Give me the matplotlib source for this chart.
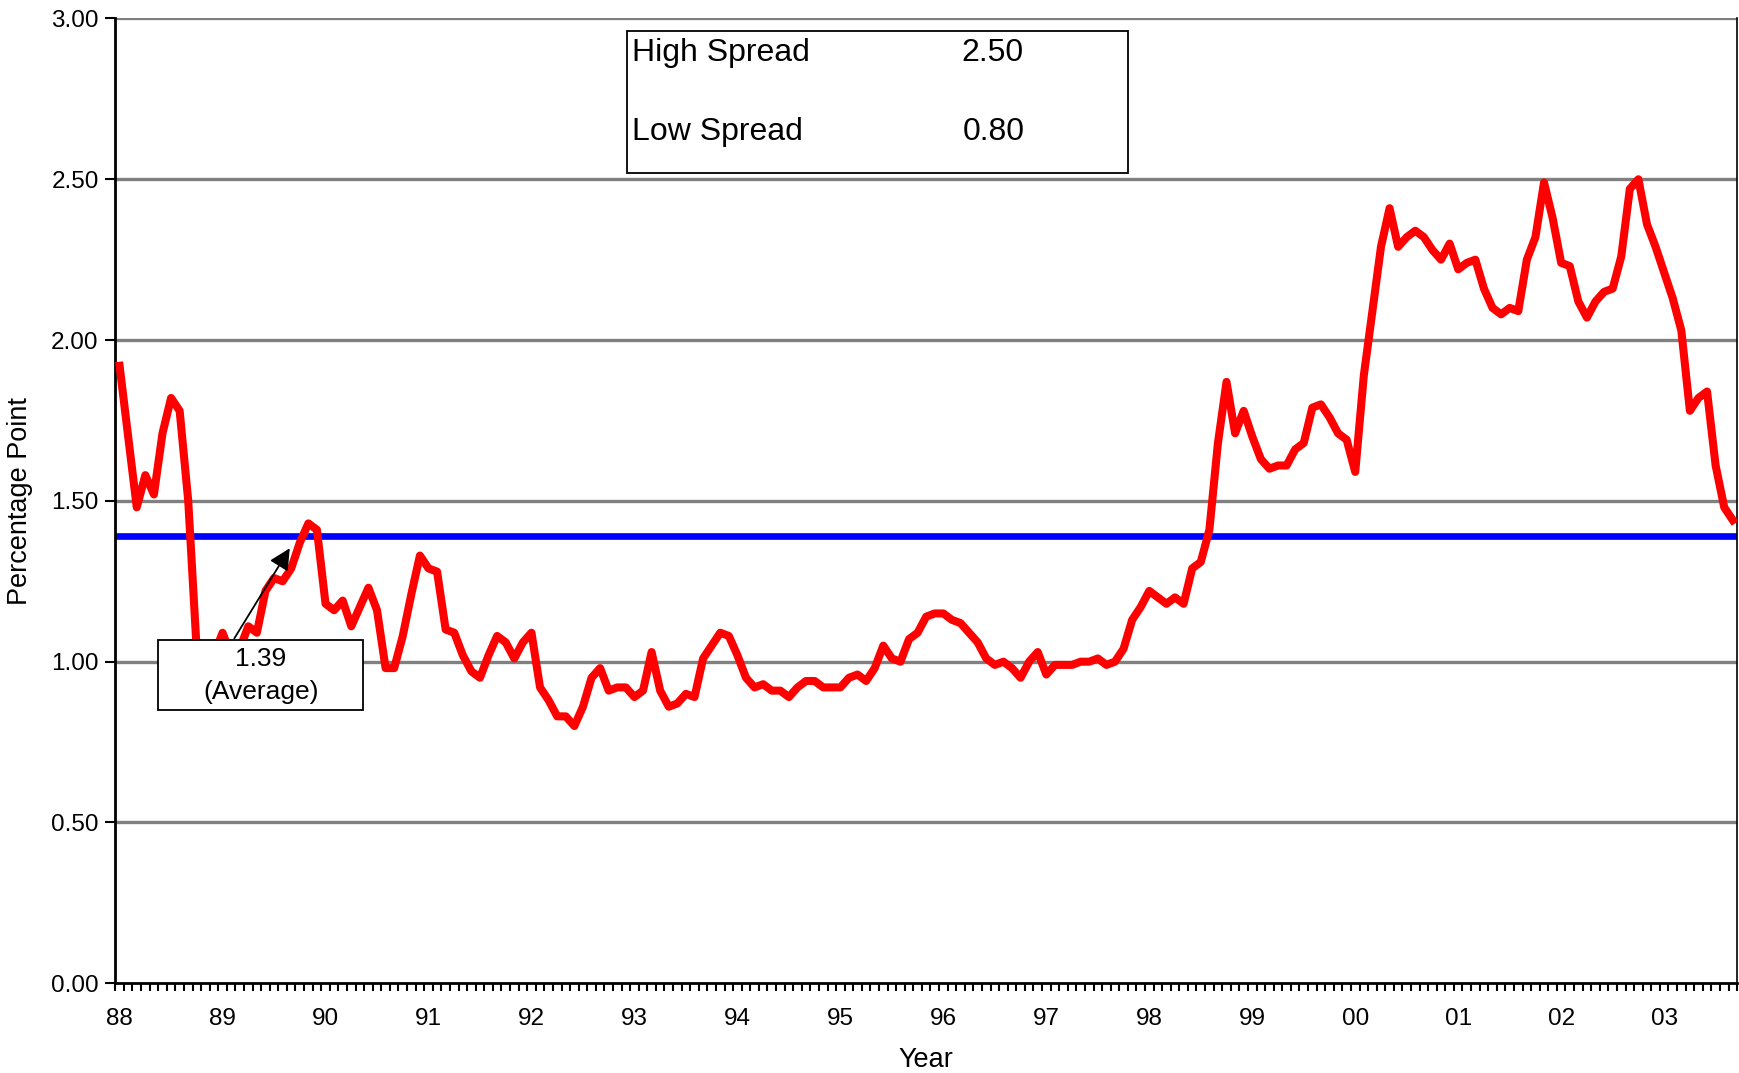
import numpy as np
import matplotlib
matplotlib.use("Agg")
import matplotlib.pyplot as plt
from matplotlib.patches import Rectangle

plt.rcParams['font.family'] = ['Liberation Sans', 'DejaVu Sans']

# monthly spread, percentage points (Jan 1988 .. Sep 2003)
spread_88 = [1.92, 1.70, 1.48, 1.58, 1.52, 1.71, 1.82, 1.78, 1.50, 1.03, 1.00, 1.02]
spread_89 = [1.09, 1.02, 1.04, 1.11, 1.09, 1.22, 1.26, 1.25, 1.29, 1.37, 1.43, 1.41]
spread_90 = [1.18, 1.16, 1.19, 1.11, 1.17, 1.23, 1.16, 0.98, 0.98, 1.08, 1.21, 1.33]
spread_91 = [1.29, 1.28, 1.10, 1.09, 1.02, 0.97, 0.95, 1.02, 1.08, 1.06, 1.01, 1.06]
spread_92 = [1.09, 0.92, 0.88, 0.83, 0.83, 0.80, 0.86, 0.95, 0.98, 0.91, 0.92, 0.92]
spread_93 = [0.89, 0.91, 1.03, 0.91, 0.86, 0.87, 0.90, 0.89, 1.01, 1.05, 1.09, 1.08]
spread_94 = [1.02, 0.95, 0.92, 0.93, 0.91, 0.91, 0.89, 0.92, 0.94, 0.94, 0.92, 0.92]
spread_95 = [0.92, 0.95, 0.96, 0.94, 0.98, 1.05, 1.01, 1.00, 1.07, 1.09, 1.14, 1.15]
spread_96 = [1.15, 1.13, 1.12, 1.09, 1.06, 1.01, 0.99, 1.00, 0.98, 0.95, 1.00, 1.03]
spread_97 = [0.96, 0.99, 0.99, 0.99, 1.00, 1.00, 1.01, 0.99, 1.00, 1.04, 1.13, 1.17]
spread_98 = [1.22, 1.20, 1.18, 1.20, 1.18, 1.29, 1.31, 1.41, 1.68, 1.87, 1.71, 1.78]
spread_99 = [1.70, 1.63, 1.60, 1.61, 1.61, 1.66, 1.68, 1.79, 1.80, 1.76, 1.71, 1.69]
spread_00 = [1.59, 1.89, 2.09, 2.29, 2.41, 2.29, 2.32, 2.34, 2.32, 2.28, 2.25, 2.30]
spread_01 = [2.22, 2.24, 2.25, 2.16, 2.10, 2.08, 2.10, 2.09, 2.25, 2.32, 2.49, 2.38]
spread_02 = [2.24, 2.23, 2.12, 2.07, 2.12, 2.15, 2.16, 2.26, 2.47, 2.50, 2.36, 2.29]
spread_03 = [2.21, 2.13, 2.03, 1.78, 1.82, 1.84, 1.61, 1.48, 1.44]

year_labels = ['88', '89', '90', '91', '92', '93', '94', '95',
               '96', '97', '98', '99', '00', '01', '02', '03']
average = 1.39
high_spread = 2.50
low_spread = 0.80

spread = np.array(spread_88 + spread_89 + spread_90 + spread_91 + spread_92
                  + spread_93 + spread_94 + spread_95 + spread_96 + spread_97
                  + spread_98 + spread_99 + spread_00 + spread_01 + spread_02
                  + spread_03)
months = np.arange(len(spread))

fig = plt.figure(figsize=(17.39, 10.73), dpi=100)
ax = fig.add_axes([0.0663, 0.0836, 0.9326, 0.8992])

# gridlines
for g in np.arange(0.5, 3.01, 0.5):
    ax.axhline(g, color='#808080', lw=2.4, zorder=1)

ax.plot(months, spread, color='#ff0000', lw=5.8, zorder=3, solid_joinstyle='round')
ax.axhline(average, color='#0000ff', lw=4.8, zorder=2)

ax.set_xlim(-0.5, len(spread) - 0.5)
ax.set_ylim(0, 3.0)

ax.set_yticks(np.arange(0, 3.01, 0.5))
ax.set_yticklabels(['%.2f' % v for v in np.arange(0, 3.01, 0.5)], fontsize=17.5)
ax.tick_params(axis='y', length=7, width=1.5, pad=5)

# month tick marks between categories, year labels at January
ax.set_xticks(np.arange(-0.5, len(spread), 1.0))
ax.set_xticklabels([])
ax.tick_params(axis='x', which='major', length=6, width=1.5)
ax.set_xticks(np.arange(0, len(spread), 12), minor=True)
ax.set_xticklabels(year_labels, minor=True, fontsize=17.5)
ax.tick_params(axis='x', which='minor', length=0, pad=18)

for s in ['left', 'bottom']:
    ax.spines[s].set_linewidth(2)
ax.spines['top'].set_visible(False)
ax.spines['right'].set_linewidth(1.2)

ax.set_xlabel('Year', fontsize=19.5)
ax.xaxis.set_label_coords(0.5, -0.066)
ax.set_ylabel('Percentage Point', fontsize=19.5)
ax.yaxis.set_label_coords(-0.0507, 0.5)

# high/low box
fig.patches.append(Rectangle((0.3606, 0.8388), 0.288, 0.1323, transform=fig.transFigure,
                             fill=True, facecolor='white', edgecolor='black', lw=1.3, zorder=5))
fig.text(0.3635, 0.951, 'High Spread', fontsize=23, va='center', zorder=6)
fig.text(0.5885, 0.951, '%.2f' % high_spread, fontsize=23, ha='right', va='center', zorder=6)
fig.text(0.3635, 0.877, 'Low Spread', fontsize=23, va='center', zorder=6)
fig.text(0.5895, 0.877, '%.2f' % low_spread, fontsize=23, ha='right', va='center', zorder=6)

# average callout
ax.annotate('', xy=(20.0, 1.36), xytext=(13.2, 1.065),
            arrowprops=dict(arrowstyle='-|>', color='black', lw=1.3, mutation_scale=32),
            zorder=6)
fig.patches.append(Rectangle((0.0906, 0.3383), 0.1179, 0.0652, transform=fig.transFigure,
                             facecolor='white', edgecolor='black', lw=1.3, zorder=5))
fig.text(0.1499, 0.3857, '%.2f' % average, fontsize=19, ha='center', va='center', zorder=6)
fig.text(0.1499, 0.3550, '(Average)', fontsize=19, ha='center', va='center', zorder=6)

fig.savefig('out.png', dpi=100)
